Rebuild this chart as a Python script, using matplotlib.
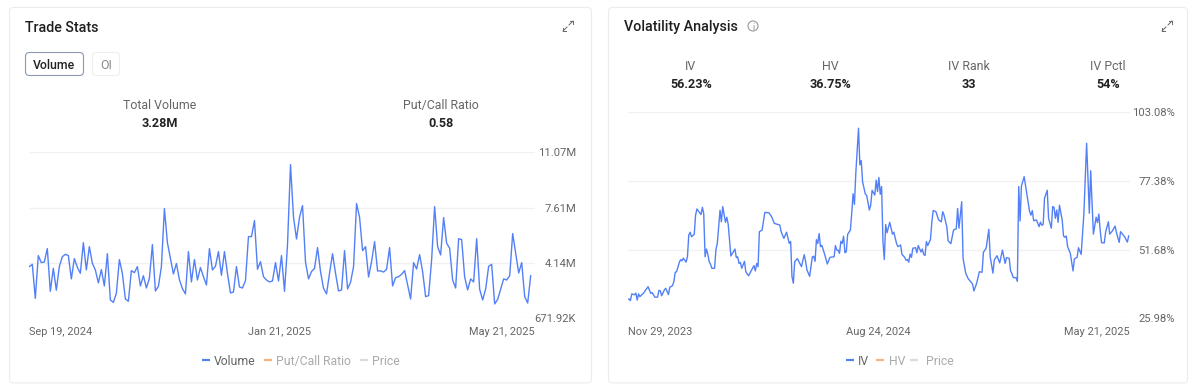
import matplotlib
matplotlib.use('Agg')
import matplotlib.pyplot as plt
from matplotlib.patches import FancyBboxPatch, Circle

plt.rcParams['font.family'] = ['Roboto', 'DejaVu Sans']

# Trade Stats: daily volume in millions
volumen = [3.91, 4.05, 1.92, 4.60, 4.16, 4.20, 5.04, 2.36, 3.80, 2.43, 3.91, 4.53, 4.68, 4.60, 3.14, 4.41, 3.87, 3.49, 5.41, 3.70,
           5.16, 4.12, 3.70, 2.89, 3.72, 2.70, 4.72, 1.82, 1.67, 2.24, 4.35, 3.49, 1.88, 1.74, 3.66, 3.53, 3.91, 2.70, 3.34, 2.57,
           3.18, 5.29, 2.38, 2.68, 3.91, 7.54, 5.41, 4.43, 3.45, 4.10, 3.09, 2.53, 2.20, 4.85, 2.95, 4.35, 3.07, 3.85, 3.28, 2.76,
           5.04, 3.70, 3.93, 4.85, 3.37, 4.85, 3.49, 2.26, 2.32, 3.91, 2.63, 2.57, 3.03, 5.79, 5.79, 6.79, 3.74, 4.22, 3.28, 3.07,
           2.95, 3.01, 4.16, 3.01, 4.60, 2.36, 5.27, 10.30, 7.00, 5.64, 7.00, 7.73, 4.18, 3.14, 3.60, 3.80, 5.10, 3.60, 2.55, 2.20,
           3.49, 4.72, 3.49, 2.38, 2.45, 4.91, 2.51, 2.93, 3.91, 7.86, 7.00, 4.91, 5.16, 3.26, 4.22, 5.47, 3.64, 3.64, 3.57, 3.74,
           5.10, 2.70, 3.22, 3.28, 3.43, 3.66, 2.76, 1.88, 4.16, 3.76, 4.66, 3.60, 2.03, 2.09, 4.33, 7.67, 5.16, 4.64, 6.98, 5.37,
           5.06, 3.07, 2.57, 5.66, 5.60, 3.26, 2.45, 3.14, 2.95, 5.66, 2.49, 1.82, 2.51, 3.93, 4.05, 1.57, 1.86, 2.49, 3.14, 3.07,
           3.34, 5.98, 4.74, 3.51, 4.16, 2.03, 1.63, 3.34]
vol_ticks = [0.67192, 4.14, 7.61, 11.07]
vol_tick_labels = ['671.92K', '4.14M', '7.61M', '11.07M']
vol_fechas = ['Sep 19, 2024', 'Jan 21, 2025', 'May 21, 2025']

# Volatility Analysis: trading day number and IV in percent
iv_dia = [0, 1, 2, 3, 5, 6, 7, 8, 9, 11, 12, 13, 15, 17, 18, 20, 22, 23, 24, 25, 27, 28, 30, 31, 33, 34, 35, 36, 38, 39,
          40, 41, 43, 44, 45, 46, 47, 49, 50, 51, 54, 55, 56, 57, 58, 59, 60, 61, 62, 64, 65, 66, 68, 69, 70, 72, 73, 74, 76, 79,
          80, 81, 82, 83, 84, 86, 87, 89, 93, 94, 95, 96, 97, 99, 101, 104, 106, 108, 112, 113, 115, 117, 119, 120, 121, 122, 123, 125, 128, 130,
          131, 132, 134, 136, 137, 138, 139, 140, 141, 142, 143, 145, 147, 149, 152, 153, 154, 155, 156, 157, 158, 159, 160, 161, 162, 164, 165, 166, 167, 168,
          170, 171, 172, 173, 175, 176, 178, 179, 180, 182, 183, 184, 185, 186, 187, 188, 189, 190, 191, 193, 195, 196, 198, 199, 201, 202, 204, 205, 206, 207,
          208, 209, 210, 212, 213, 214, 216, 217, 218, 219, 220, 221, 223, 224, 225, 227, 229, 231, 232, 233, 235, 236, 238, 240, 242, 243, 244, 246, 247, 248,
          249, 251, 252, 254, 255, 257, 259, 261, 262, 264, 266, 267, 269, 270, 272, 274, 276, 278, 279, 281, 282, 283, 284, 286, 287, 288, 289, 290, 292, 295,
          296, 297, 298, 299, 301, 303, 304, 305, 306, 307, 309, 310, 312, 313, 314, 315, 316, 317, 318, 320, 321, 322, 323, 324, 326, 328, 329, 331, 332, 334,
          336, 338, 340, 341, 342, 343, 345, 346, 347, 348, 349, 351, 352, 354, 355, 357, 359, 360, 362, 363, 366, 368, 369]
iv = [33.1, 33.2, 32.6, 35.1, 34.8, 35.4, 32.8, 35.1, 34.1, 35.1, 35.6, 36.4, 37.8, 35.3, 35.6, 33.9, 33.9, 36.4, 36.3, 34.4, 36.6, 37.2, 34.9, 37.6, 38.2, 39.7, 43.2, 43.4, 46.9, 47.9,
      47.5, 48.5, 47.0, 49.0, 57.2, 58.2, 56.5, 57.4, 64.6, 66.9, 64.8, 67.5, 65.1, 49.0, 51.9, 50.0, 47.2, 46.2, 44.7, 44.7, 51.8, 54.0, 66.4, 62.1, 67.8, 61.9, 63.8, 61.2, 49.3, 51.9,
      48.7, 49.0, 46.5, 46.9, 44.7, 47.3, 43.4, 41.9, 45.7, 43.7, 46.5, 45.3, 58.4, 59.0, 65.6, 65.5, 64.0, 61.5, 60.9, 58.4, 55.9, 58.2, 54.0, 54.7, 41.6, 39.1, 47.2, 48.3, 45.3, 49.8,
      47.4, 44.1, 41.7, 49.0, 49.2, 47.3, 55.4, 54.0, 57.7, 52.8, 53.3, 50.0, 46.3, 48.8, 49.0, 53.2, 51.5, 51.5, 50.3, 54.8, 54.0, 56.7, 50.5, 50.9, 57.4, 59.0, 65.3, 72.6, 68.6, 80.2,
      97.1, 83.4, 85.0, 77.1, 72.5, 72.0, 66.5, 68.4, 73.9, 72.1, 77.7, 73.4, 78.7, 72.4, 75.3, 54.7, 48.0, 61.1, 58.0, 61.9, 57.5, 58.2, 54.0, 52.8, 53.4, 49.9, 48.8, 47.7, 48.0, 47.0,
      50.0, 48.8, 52.2, 52.4, 50.5, 53.2, 50.8, 51.9, 49.9, 49.5, 54.7, 53.2, 55.5, 61.9, 66.3, 65.9, 62.8, 62.1, 65.9, 64.6, 60.3, 55.0, 53.9, 59.0, 59.5, 67.1, 59.7, 69.6, 48.4, 45.7,
      42.8, 40.6, 40.1, 38.8, 36.2, 39.1, 43.4, 43.2, 50.7, 52.2, 59.3, 49.0, 42.9, 47.8, 49.4, 46.7, 51.5, 46.5, 48.7, 48.4, 43.7, 42.7, 41.2, 41.2, 39.8, 75.3, 62.4, 75.5, 79.0, 69.0,
      65.9, 64.6, 66.3, 62.5, 62.8, 60.3, 62.0, 60.8, 61.1, 70.9, 73.9, 63.4, 59.7, 67.8, 67.5, 63.4, 66.5, 61.9, 68.3, 62.8, 56.8, 56.3, 56.8, 52.8, 50.3, 43.7, 48.2, 48.8, 52.4, 49.9,
      65.3, 91.5, 65.3, 81.2, 69.0, 57.5, 63.8, 61.8, 65.0, 59.0, 54.3, 54.2, 58.2, 62.1, 57.5, 58.7, 60.5, 58.0, 54.4, 58.4, 56.5, 54.5, 56.8]
iv_ticks = [25.98, 51.68, 77.38, 103.08]
iv_tick_labels = ['25.98%', '51.68%', '77.38%', '103.08%']
iv_fechas = ['Nov 29, 2023', 'Aug 24, 2024', 'May 21, 2025']

stats_izq = [('Total Volume', '3.28M', 160), ('Put/Call Ratio', '0.58', 441)]
stats_der = [('IV', '56.23%', 691), ('HV', '36.75%', 830), ('IV Rank', '33', 969), ('IV Pctl', '54%', 1108)]

AZUL = '#5380f7'
NARANJA = '#f6b27f'
GRIS_CLARO = '#dcdcdc'
W, H = 1196, 387

fig = plt.figure(figsize=(W / 100, H / 100), dpi=100, facecolor='white')

# overlay in pixel coordinates for the cards and the text around the charts
bg = fig.add_axes([0, 0, 1, 1])
bg.set_xlim(0, W)
bg.set_ylim(H, 0)
bg.axis('off')


def caja(x0, y0, x1, y1, borde, r=4, lw=0.8):
    bg.add_patch(FancyBboxPatch((x0, y0), x1 - x0, y1 - y0, boxstyle=f'round,pad=0,rounding_size={r}',
                                fc='white', ec=borde, lw=lw))


def expandir(cx, cy):
    # the small expand icon at the top right of each card
    s = 5
    for sx, sy in [(1, -1), (-1, 1)]:
        bg.plot([cx + sx, cx + sx * s], [cy + sy, cy + sy * s], color='#666666', lw=0.7)
        bg.plot([cx + sx * (s - 3), cx + sx * s, cx + sx * s], [cy + sy * s, cy + sy * s, cy + sy * (s - 3)],
                color='#666666', lw=0.7)


def leyenda(items):
    for x0, x_txt, color, texto, color_txt in items:
        bg.plot([x0, x0 + 8], [360, 360], color=color, lw=1.6, solid_capstyle='butt')
        bg.text(x_txt, 360, texto, color=color_txt, fontsize=8.8, va='center_baseline', ha='left')


caja(9.5, 7.5, 591.5, 383, '#ececec')
caja(608.5, 7.5, 1187.5, 383, '#ececec')

bg.text(25, 26, 'Trade Stats', fontsize=10.3, fontweight='medium', color='#1f1f1f', va='center_baseline')
bg.text(624, 26, 'Volatility Analysis', fontsize=10.3, fontweight='medium', color='#1f1f1f', va='center_baseline')
expandir(568, 26)
expandir(1167, 26)

bg.add_patch(Circle((753, 26), 5, fc='none', ec='#999999', lw=0.8))
bg.text(753, 26, 'i', fontsize=6.5, color='#888888', ha='center', va='center_baseline')

caja(25.5, 52.5, 83.5, 75.5, '#8c99b3')
bg.text(54.5, 64, 'Volume', fontsize=8.8, fontweight='medium', color='#222222', ha='center', va='center_baseline')
caja(92.5, 52.5, 119.5, 75.5, '#eeeeee')
bg.text(106, 64, 'OI', fontsize=8.8, color='#888888', ha='center', va='center_baseline')

for nombre, valor, x in stats_izq:
    bg.text(x, 104, nombre, fontsize=8.9, color='#666666', ha='center', va='center_baseline')
    bg.text(x, 122, valor, fontsize=9.1, fontweight='bold', color='#222222', ha='center', va='center_baseline')
for nombre, valor, x in stats_der:
    bg.text(x, 64.5, nombre, fontsize=8.9, color='#666666', ha='center', va='center_baseline')
    bg.text(x, 83.5, valor, fontsize=9.1, fontweight='bold', color='#222222', ha='center', va='center_baseline')

leyenda([(202, 214, AZUL, 'Volume', '#666666'), (264, 276, NARANJA, 'Put/Call Ratio', '#aaaaaa'),
         (360, 372, GRIS_CLARO, 'Price', '#aaaaaa')])
leyenda([(846, 858, AZUL, 'IV', '#666666'), (876, 889, NARANJA, 'HV', '#aaaaaa'),
         (910, 926, GRIS_CLARO, 'Price', '#aaaaaa')])


def panel(x0, x1, y_top, y_bot):
    ax = fig.add_axes([x0 / W, 1 - y_bot / H, (x1 - x0) / W, (y_bot - y_top) / H])
    ax.patch.set_alpha(0)
    for s in ax.spines.values():
        s.set_visible(False)
    ax.yaxis.tick_right()
    ax.grid(axis='y', color='#f1f1f1', lw=1)
    ax.set_axisbelow(True)
    ax.tick_params(length=0, labelsize=8.1, labelcolor='#666666')
    return ax


def fechas(ax, xs, labels):
    ax.set_xticks(xs, labels)
    ax.tick_params(axis='x', pad=6, labelsize=7.9)
    for t, ha in zip(ax.get_xticklabels(), ['left', 'center', 'right']):
        t.set_ha(ha)


def etiquetas_y(ax, pad_pts):
    ax.tick_params(axis='y', pad=pad_pts)
    for t in ax.get_yticklabels():
        t.set_ha('right')


# left chart
ax1 = panel(29.3, 535, 152.3, 318.3)
n1 = len(volumen) - 1
x_max1 = n1 * (535 - 29.3) / (530.7 - 29.3)
ax1.plot(range(len(volumen)), volumen, color=AZUL, lw=1.0)
ax1.set_xlim(0, x_max1)
ax1.set_ylim(vol_ticks[0], vol_ticks[-1])
ax1.set_yticks(vol_ticks, vol_tick_labels)
fechas(ax1, [0, x_max1 * (279 - 29.3) / (535 - 29.3), x_max1], vol_fechas)
etiquetas_y(ax1, 41 * 0.72)

# right chart
ax2 = panel(627.7, 1130, 112.3, 318.3)
x_max2 = iv_dia[-1] * (1130 - 627.7) / (1128.7 - 627.7)
ax2.plot(iv_dia, iv, color=AZUL, lw=1.0)
ax2.set_xlim(0, x_max2)
ax2.set_ylim(iv_ticks[0], iv_ticks[-1])
ax2.set_yticks(iv_ticks, iv_tick_labels)
fechas(ax2, [0, x_max2 * (878 - 627.7) / (1130 - 627.7), x_max2], iv_fechas)
etiquetas_y(ax2, 45 * 0.72)

fig.savefig('out.png', dpi=100)
